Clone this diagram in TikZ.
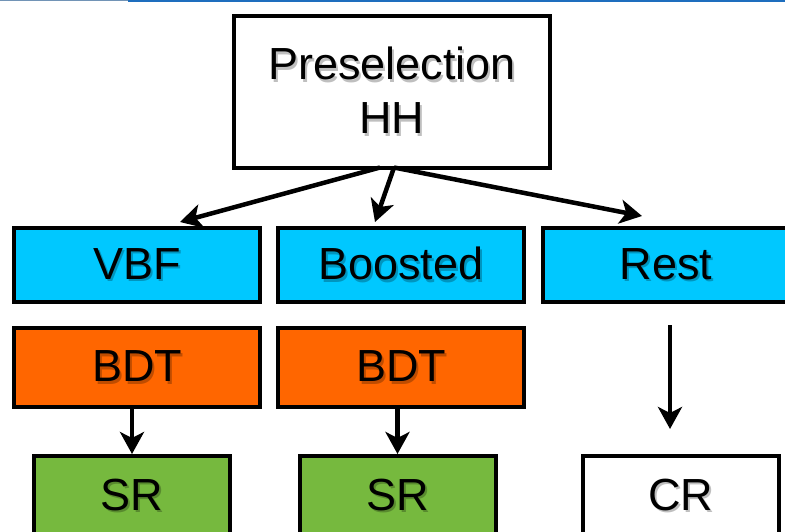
\documentclass[tikz,border=0pt]{standalone}
\usepackage{fontspec}
\setmainfont{Liberation Sans}
\usetikzlibrary{arrows.meta,calc}
\definecolor{boxcyan}{RGB}{0,200,255}
\definecolor{boxorange}{RGB}{255,102,0}
\definecolor{boxgreen}{RGB}{118,185,62}
\definecolor{hdrblue}{RGB}{30,110,190}
\newcommand\shd[1]{\makebox[0pt][l]{\pgfsetfillopacity{0.25}\raisebox{-2.5pt}{\hspace{2pt}#1}}\pgfsetfillopacity{1}#1}
\tikzset{
  box/.style={draw=black, line width=4pt, rectangle, inner sep=0pt,
    font=\fontsize{45}{54}\selectfont, align=center},
  cyanbox/.style={box, fill=boxcyan, minimum width=246pt, minimum height=74pt},
  orangebox/.style={box, fill=boxorange, minimum width=246pt, minimum height=79pt},
  greenbox/.style={box, fill=boxgreen, minimum width=196pt, minimum height=80pt},
  whitebox/.style={box, fill=white, minimum width=196pt, minimum height=80pt},
  conn/.style={line width=4.5pt, -{Stealth[length=22pt,width=24pt,inset=6pt]}}
}
\begin{document}
\begin{tikzpicture}[x=1pt,y=-1pt]
\useasboundingbox (0,0) rectangle (785,531);
\fill[white] (0,0) rectangle (785,531);
\draw[line width=1pt, black!30!hdrblue!60] (0,0.5) -- (128,0.5);
\draw[line width=2.5pt, hdrblue] (128,0.8) -- (785,0.8);
\node[box, fill=white, minimum width=316pt, minimum height=152pt] (pre) at (392,91.5) {\shd{Preselection}\\\shd{HH}};
\node[cyanbox] (vbf) at (137,265) {\shd{VBF}};
\node[cyanbox] (boost) at (401,265) {\shd{Boosted}};
\node[cyanbox] (rest) at (666,265) {\shd{Rest}};
\node[orangebox] (bdt1) at (137,367.5) {\shd{BDT}};
\node[orangebox] (bdt2) at (401,367.5) {\shd{BDT}};
\node[greenbox] (sr1) at (132,496) {\shd{SR}};
\node[greenbox] (sr2) at (397.5,496) {\shd{SR}};
\node[whitebox] (cr) at (681,496) {\shd{CR}};
\coordinate (sa) at ($(pre.south)+(-12,-2)$);
\coordinate (sb) at ($(pre.south)+(2,-2)$);
\coordinate (ta) at ($(vbf.north)+(43,-4)$);
\coordinate (tb) at ($(boost.north)+(-26,-4)$);
\coordinate (tc) at ($(rest.north)+(-24,-10)$);
\draw[conn] (sa) -- (ta);
\draw[conn] (sb) -- (tb);
\draw[conn] (sb) -- (tc);
\draw[conn] (bdt1.south -| sr1.north) -- (sr1.north);
\draw[conn] (bdt2.south -| sr2.north) -- (sr2.north);
\coordinate (ra) at ($(rest.south)+(4,21)$);
\coordinate (rb) at ($(cr.north)+(-11,-25)$);
\draw[conn] (ra) -- (rb);
\end{tikzpicture}
\end{document}
